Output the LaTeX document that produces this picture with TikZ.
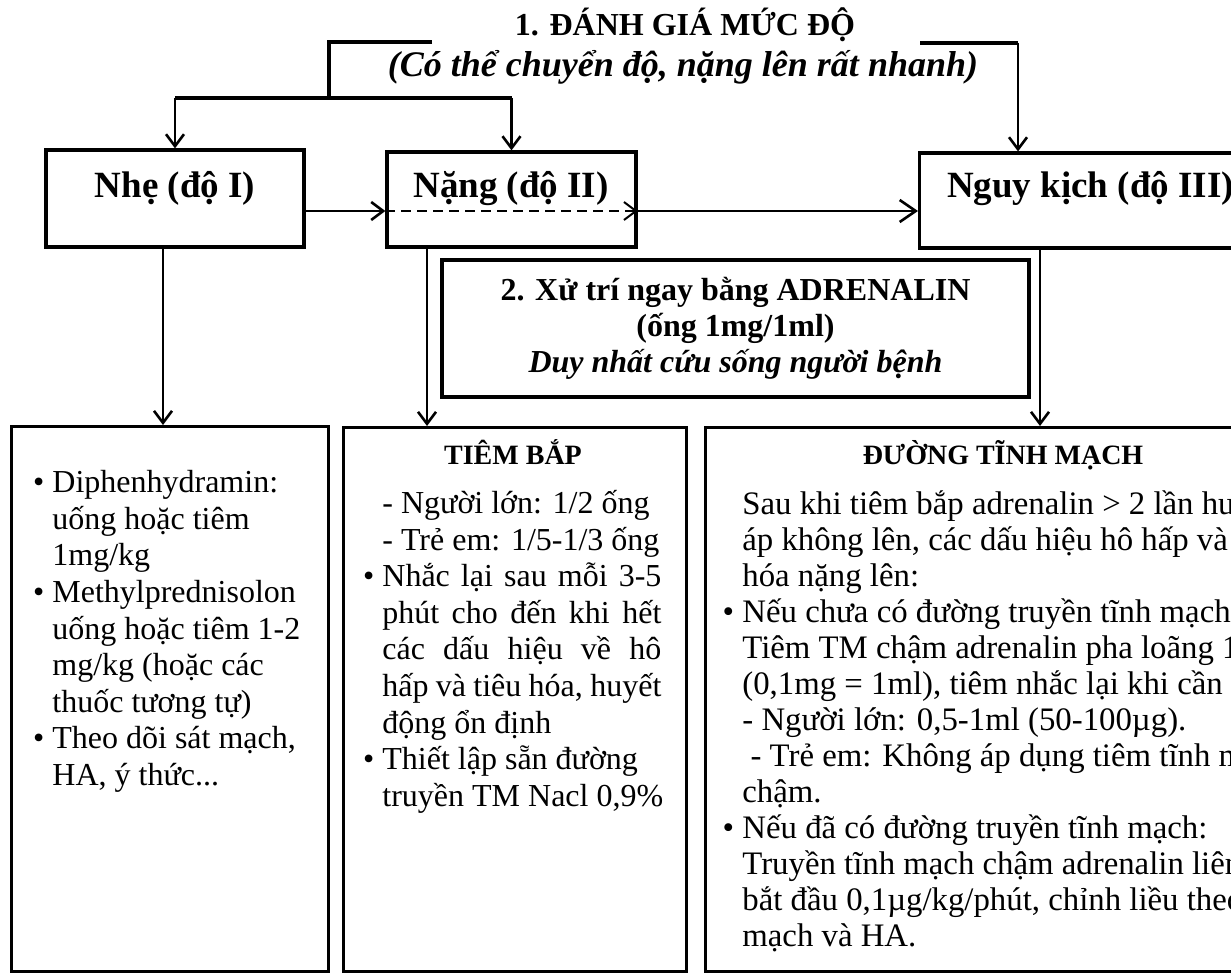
\documentclass[tikz,border=0pt]{standalone}
\usepackage{fontspec}
\setmainfont{Liberation Serif}
\usetikzlibrary{arrows.meta}

\newcommand{\jl}[1]{\makebox[139.5pt][s]{#1}}
\newcommand{\bl}{\llap{\textbullet\ }}

\tikzset{
  box/.style={draw, line width=1.6pt, inner sep=0pt},
  conn/.style={line width=1.3pt},
  arr/.style={conn, -{Straight Barb[length=6pt,width=9pt]}},
  bigarr/.style={conn, -{Straight Barb[length=8pt,width=11pt]}},
  bracket/.style={line width=2pt},
  grade/.style={anchor=base, font=\fontsize{18.5}{22}\selectfont\bfseries},
  head/.style={anchor=base, font=\fontsize{14}{17}\selectfont\bfseries},
  body/.style={anchor=north west, align=left, inner sep=0pt}
}

\begin{document}
\begin{tikzpicture}[x=0.5pt, y=-0.5pt, font=\fontsize{16}{18.3}\selectfont]
\useasboundingbox (0,0) rectangle (1231,974);
\clip (0,0) rectangle (1231,974);

% 1. danh gia
\node[anchor=base, font=\fontsize{16}{19}\selectfont\bfseries] (t1) at (685,36) {1. ĐÁNH GIÁ MỨC ĐỘ};
\node[anchor=base, font=\fontsize{18}{21}\selectfont\bfseries\itshape] (t2) at (683,77) {(Có thể chuyển độ, nặng lên rất nhanh)};

% muc do
\node[box, minimum width=129pt, minimum height=48.5pt] (mild) at (175,198.5) {};
\node[box, minimum width=124.5pt, minimum height=47.5pt] (severe) at (511.5,199.5) {};
\node[box, minimum width=190pt, minimum height=47.5pt, anchor=west] (crit) at (918,200.5) {};
\node[grade] (mildl) at (175,198) {Nhẹ (độ I)};
\node[grade] (severel) at (511,198) {Nặng (độ II)};
\node[grade, anchor=base west] (critl) at (940,198) {Nguy kịch (độ III)};

% 2. xu tri
\node[box, minimum width=293.5pt, minimum height=68.5pt, align=center, font=\fontsize{16}{18}\selectfont\bfseries] (adr) at (735.5,328.5)
  {2. Xử trí ngay bằng ADRENALIN\\ (ống 1mg/1ml)\\ \itshape Duy nhất cứu sống người bệnh};

% hop duoi
\node[box, anchor=north west, minimum width=158.5pt, minimum height=272.5pt] (lbox) at (10,425) {};
\node[box, anchor=north west, minimum width=171.5pt, minimum height=272pt] (mbox) at (342,426) {};
\node[box, anchor=north west, minimum width=300pt, minimum height=272pt] (rbox) at (704,426) {};

\node[body] (ltxt) at (52,470) {\bl Diphenhydramin:\\ uống hoặc tiêm\\ 1mg/kg\\
  \bl Methylprednisolon\\ uống hoặc tiêm 1-2\\ mg/kg (hoặc các\\ thuốc tương tự)\\
  \bl Theo dõi sát mạch,\\ HA, ý thức...};

\node[head] (mhead) at (513,464) {TIÊM BẮP};
\node[body] (mtxt) at (382,490) {- Người lớn: 1/2 ống\\ - Trẻ em: 1/5-1/3 ống\\
  \bl\jl{Nhắc lại sau mỗi 3-5}\\ \jl{phút cho đến khi hết}\\ \jl{các dấu hiệu về hô}\\
  \jl{hấp và tiêu hóa, huyết}\\ động ổn định\\ \bl Thiết lập sẵn đường\\ truyền TM Nacl 0,9\%};

\node[head] (rhead) at (1003,464) {ĐƯỜNG TĨNH MẠCH};
\node[body, font=\fontsize{16.4}{18}\selectfont] (rtxt) at (742,490) {Sau khi tiêm bắp adrenalin > 2 lần huyết\\
  áp không lên, các dấu hiệu hô hấp và\\ hóa nặng lên:\\
  \bl Nếu chưa có đường truyền tĩnh mạch\\ Tiêm TM chậm adrenalin pha loãng 1\\
  (0,1mg = 1ml), tiêm nhắc lại khi cần\\ - Người lớn: 0,5-1ml (50-100µg).\\
  \ - Trẻ em: Không áp dụng tiêm tĩnh mạch\\ chậm.\\
  \bl Nếu đã có đường truyền tĩnh mạch:\\ Truyền tĩnh mạch chậm adrenalin liên\\
  bắt đầu 0,1µg/kg/phút, chỉnh liều theo\\ mạch và HA.};

% ngoac tren
\coordinate (lb) at (432,42);
\coordinate (fork) at (329,98);
\coordinate (rb) at (920,43);
\coordinate (rc) at (1018,43);
\draw[bracket] (lb) -- (lb -| fork) -- (fork);
\draw[bracket] (mild.north |- fork) -- (severe.north |- fork);
\draw[arr] (mild.north |- fork) -- (mild.north);
\draw[arr] (severe.north |- fork) -- (severe.north);
\draw[bracket] (rb) -- (rc);
\draw[arr] (rc) -- (rc |- crit.north);

% chuyen do
\coordinate (row) at (0,211);
\draw[arr] (mild.east |- row) -- (severe.west |- row);
\draw[conn, line width=1pt, dash pattern=on 5pt off 3pt, -{Straight Barb[length=6pt,width=9pt]}] (severe.west |- row) -- (severe.east |- row);
\draw[bigarr] (severe.east |- row) -- (crit.west |- row);

% xuong hop duoi
\coordinate (a1) at (163,0);
\coordinate (a2) at (427,0);
\coordinate (a3) at (1040,0);
\draw[arr] (a1 |- mild.south) -- (a1 |- lbox.north);
\draw[arr] (a2 |- severe.south) -- (a2 |- mbox.north);
\draw[arr] (a3 |- crit.south) -- (a3 |- rbox.north);
\end{tikzpicture}
\end{document}
